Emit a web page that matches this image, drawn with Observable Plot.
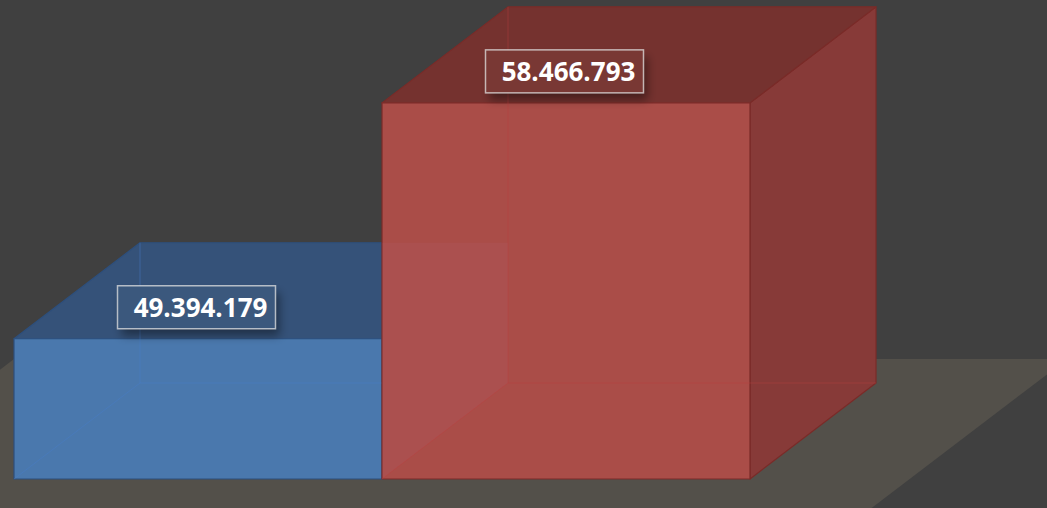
<!DOCTYPE html>
<html>
<head>
<meta charset="utf-8">
<script src="https://cdn.jsdelivr.net/npm/d3@7"></script>
<script src="https://cdn.jsdelivr.net/npm/@observablehq/plot@0.6"></script>
<style>
  html, body { margin: 0; padding: 0; background: #404040; overflow: hidden; }
  #chart svg { display: block; }
</style>
</head>
<body>
<div id="chart"></div>
<script>
// ---- data ----
const categories = ["A", "B"];
const values = [49394179, 58466793];
const valueLabels = ["49.394.179", "58.466.793"];
const yDomain = [44000000, 60000000];

const data = categories.map((c, i) => ({category: c, value: values[i], label: valueLabels[i]}));

// ---- style ----
const DX = 126, DY = -96; // 3D depth offset (pixels)
const colors = [
  {front: "#4a78ad", top: "#355279", side: "#3a5d8a", edge: "#2d4f7d", hidden: "rgba(70,125,200,0.45)"},
  {front: "#aa4d48", top: "#75322f", side: "#873a38", edge: "#7a2b28", hidden: "rgba(185,65,62,0.45)"}
];
const floorColor = "#53504a";

function poly(pts) { return "M" + pts.map(p => p[0] + "," + p[1]).join("L") + "Z"; }

function boxesMark(index, scales, values_, dimensions) {
  const sx = scales.x, sy = scales.y;
  const xs = categories.map(c => sx(c));
  const bw = categories.length > 1 ? xs[1] - xs[0]
    : dimensions.width - dimensions.marginLeft - dimensions.marginRight;
  const base = sy(yDomain[0]);
  const x0 = xs[0], x1 = xs[xs.length - 1] + bw;
  const g = d3.create("svg:g");
  const defs = g.append("defs");
  const f = defs.append("filter").attr("id", "lblshadow")
    .attr("x", "-20%").attr("y", "-30%").attr("width", "150%").attr("height", "190%");
  f.append("feDropShadow").attr("dx", 4).attr("dy", 7).attr("stdDeviation", 5)
    .attr("flood-color", "#000").attr("flood-opacity", 0.4);

  // floor
  const fb = base - 120, ff = base + 31, fd = (ff - fb) * (DX / -DY);
  g.append("path")
    .attr("d", poly([[x0, fb], [x1 + 119 + fd, fb], [x1 + 119, ff], [x0 - fd, ff]]))
    .attr("fill", floorColor);

  data.forEach((d, i) => {
    const c = colors[i];
    const xl = sx(d.category), xr = xl + bw, yt = sy(d.value);
    // right side
    g.append("path").attr("d", poly([[xr, yt], [xr + DX, yt + DY], [xr + DX, base + DY], [xr, base]]))
      .attr("fill", c.side).attr("stroke", c.edge).attr("stroke-width", 1.2).attr("stroke-linejoin", "round");
    // top
    g.append("path").attr("d", poly([[xl, yt], [xr, yt], [xr + DX, yt + DY], [xl + DX, yt + DY]]))
      .attr("fill", c.top).attr("stroke", c.edge).attr("stroke-width", 1.2).attr("stroke-linejoin", "round");
    // front
    g.append("path").attr("d", poly([[xl, yt], [xr, yt], [xr, base], [xl, base]]))
      .attr("fill", c.front).attr("stroke", c.edge).attr("stroke-width", 1.2);
    // tint where previous box shows through
    if (i > 0) {
      const yp = sy(data[i - 1].value);
      g.append("path").attr("d", poly([[xl, yp + DY], [xl + DX, yp + DY], [xl + DX, base + DY], [xl, base]]))
        .attr("fill", "#c070a0").attr("fill-opacity", 0.09);
    }
    // hidden edges seen through the semi-transparent box
    g.append("path")
      .attr("d", `M${xl + DX},${yt + DY}L${xl + DX},${base + DY}L${xr + DX},${base + DY}M${xl},${base}L${xl + DX},${base + DY}`)
      .attr("fill", "none").attr("stroke", c.hidden).attr("stroke-width", 1);
  });

  // label boxes
  data.forEach((d, i) => {
    const cx = sx(d.category) + bw / 2 - 1.5, cy = sy(d.value) - 31.5;
    g.append("rect").attr("x", cx - 79).attr("y", cy - 21.5).attr("width", 158).attr("height", 43)
      .attr("fill", colors[i].top).attr("filter", "url(#lblshadow)");
    g.append("rect").attr("x", cx - 79).attr("y", cy - 21.5).attr("width", 158).attr("height", 43)
      .attr("fill", "rgba(255,255,255,0.03)").attr("stroke", "rgba(225,225,225,0.75)").attr("stroke-width", 1.5);
  });
  return g.node();
}

const chart = Plot.plot({
  width: 1047,
  height: 508,
  marginTop: 63,
  marginRight: 297,
  marginBottom: 29,
  marginLeft: 14,
  style: {background: "#404040", overflow: "visible"},
  x: {type: "band", domain: categories, padding: 0, axis: null},
  y: {domain: yDomain, axis: null},
  marks: [
    boxesMark,
    Plot.text(data, {
      x: "category", y: "value", text: "label", dy: -31, dx: 2,
      fill: "white", fontSize: 26, fontWeight: "bold", fontFamily: "Open Sans"
    })
  ]
});
document.getElementById("chart").appendChild(chart);
</script>
</body>
</html>
